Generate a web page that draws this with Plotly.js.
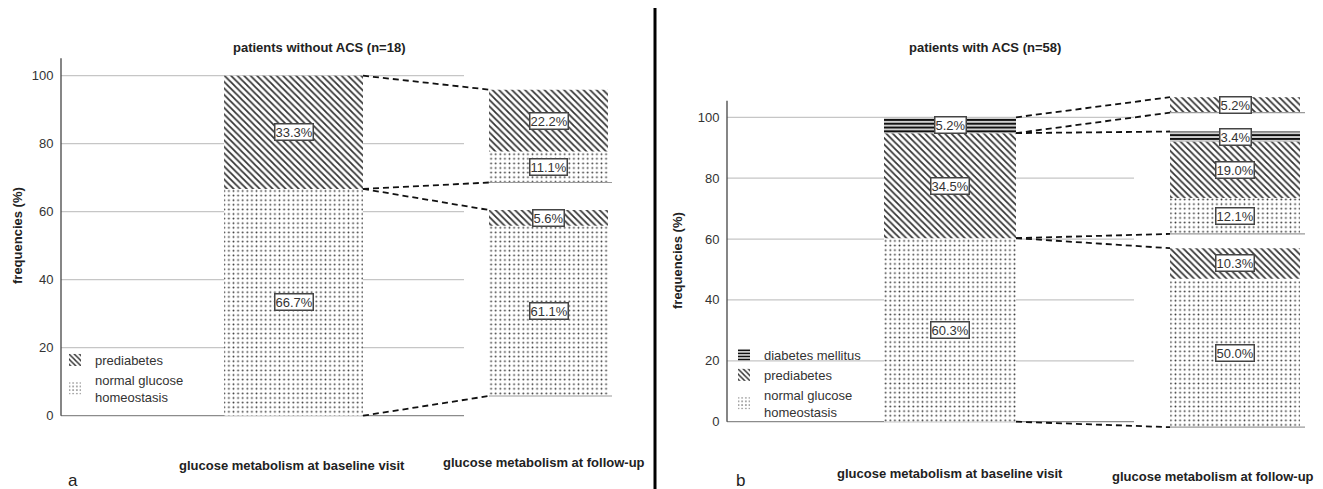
<!DOCTYPE html>
<html><head><meta charset="utf-8">
<script src="https://cdn.plot.ly/plotly-3.0.1.min.js"></script>
<style>html,body{margin:0;padding:0;background:#fff}#chart{width:1323px;height:489px}</style>
</head><body><div id="chart"></div>
<script>
// ---------------- data ----------------
const categories = ["normal glucose<br>homeostasis", "prediabetes", "diabetes mellitus"];
const stageLabels = ["glucose metabolism at baseline visit", "glucose metabolism at follow-up"];
const panelTitles = ["patients without ACS (n=18)", "patients with ACS (n=58)"];
const panelLetters = ["a", "b"];
const yTicks = [0, 20, 40, 60, 80, 100];

// panel a: patients without ACS — baseline % (normal, prediabetes)
const baselineA = [66.7, 33.3];
// follow-up %, by baseline group; columns = (normal, prediabetes)
const followUpA_fromNormal = [61.1, 5.6];
const followUpA_fromPrediabetes = [11.1, 22.2];

// panel b: patients with ACS — baseline % (normal, prediabetes, diabetes)
const baselineB = [60.3, 34.5, 5.2];
// follow-up %, by baseline group; columns = (normal, prediabetes, diabetes)
const followUpB_fromNormal = [50.0, 10.3, 0];
const followUpB_fromPrediabetes = [12.1, 19.0, 3.4];
const followUpB_fromDiabetes = [0, 5.2, 0];

// ---------------- layout / style ----------------
const W = 1323, H = 489;
const FONT = "Liberation Sans, Arial, Helvetica, sans-serif";
const patterns = [
  {shape: ".", fgcolor: "#3a3a3a", bgcolor: "white", size: 4.6, solidity: 0.13},
  {shape: "\\", fgcolor: "#333", bgcolor: "white", size: 4.6, solidity: 0.38},
  {shape: "-", fgcolor: "#111", bgcolor: "white", size: 3.8, solidity: 0.6}
];
const geoms = [
  {axisLeft: 61, plotRight: 615, baseLeft: 224, baseRight: 363, fuLeft: 489, fuRight: 608, gridEnd: 464,
   zeroPx: 415.7, pxPerUnit: 3.4, axisTop: 105.1, rangeTop: 106, yBottom: -1.2, fuScale: 0.82, fuOffset: 5.8, fuGaps: [8.1],
   lineExt: 4, title: [319, 47], yTitle: [17, 236], stagePos: [[292, 465], [544, 462]], letter: [73, 480],
   legendLeft: 55, legendBottom: 412},
  {axisLeft: 727, plotRight: 1312, baseLeft: 884, baseRight: 1016, fuLeft: 1170, fuRight: 1300, gridEnd: 1134,
   zeroPx: 421.7, pxPerUnit: 3.044, axisTop: 105.4, rangeTop: 108.5, yBottom: -3.2, fuScale: 0.975, fuOffset: -1.8, fuGaps: [4.7, 6.2],
   lineExt: 5, title: [985, 47], yTitle: [677, 261], stagePos: [[950, 473], [1213, 476]], letter: [740, 480],
   legendLeft: 724, legendBottom: 427}
];

const traces = [], shapes = [], annotations = [];
const layout = {
  width: W, height: H, margin: {l: 0, r: 0, t: 0, b: 0},
  paper_bgcolor: "white", plot_bgcolor: "rgba(0,0,0,0)",
  barmode: "overlay", showlegend: true,
  font: {family: FONT, color: "#333"},
  hovermode: false
};

function buildPanel(idx, geom, baseline, flows) {
  const sfx = idx === 0 ? "" : "2";
  const xa = "x" + sfx, ya = "y" + sfx;
  const baseCenter = (geom.baseLeft + geom.baseRight) / 2;
  const fuCenter = (geom.fuLeft + geom.fuRight) / 2;
  const unit = fuCenter - baseCenter;
  const toX = px => (px - baseCenter) / unit;
  const bw = (geom.baseRight - geom.baseLeft) / unit;
  const fw = (geom.fuRight - geom.fuLeft) / unit;
  const n = baseline.length;

  const baseStart = []; let acc = 0;
  for (let c = 0; c < n; c++) { baseStart.push(acc); acc += baseline[c]; }
  const groupStart = []; let gacc = geom.fuOffset;
  for (let g = 0; g < n; g++) { groupStart.push(gacc); gacc += geom.fuScale * baseline[g] + (geom.fuGaps[g] || 0); }

  const bottomPx = geom.zeroPx - geom.yBottom * geom.pxPerUnit;
  const topPx = geom.zeroPx - geom.rangeTop * geom.pxPerUnit;
  layout["xaxis" + sfx] = {
    domain: [geom.axisLeft / W, geom.plotRight / W], range: [toX(geom.axisLeft), toX(geom.plotRight)],
    showgrid: false, zeroline: false, showline: false, showticklabels: false, ticks: "", fixedrange: true,
    anchor: ya
  };
  layout["yaxis" + sfx] = {
    domain: [(H - bottomPx) / H, (H - topPx) / H], range: [geom.yBottom, geom.rangeTop],
    tickvals: yTicks, ticktext: yTicks.map(String), ticks: "outside", ticklen: 4, tickcolor: "rgba(0,0,0,0)",
    showgrid: false, zeroline: false, showline: false, fixedrange: true,
    tickfont: {family: FONT, size: 13, color: "#333"}, anchor: xa
  };

  const legendId = idx === 0 ? "legend" : "legend2";
  for (let c = 0; c < n; c++) {
    const xs = [0], bases = [baseStart[c]], ys = [baseline[c]], ws = [bw];
    annotations.push(label(xa, ya, 0, baseStart[c] + baseline[c] / 2, baseline[c]));
    for (let g = 0; g < n; g++) {
      const v = flows[g][c];
      if (!(v > 0)) continue;
      let below = 0; for (let k = 0; k < c; k++) below += flows[g][k];
      const b = groupStart[g] + geom.fuScale * below;
      const h = geom.fuScale * v;
      xs.push(1); bases.push(b); ys.push(h); ws.push(fw);
      annotations.push(label(xa, ya, 1, b + h / 2, v));
    }
    traces.push({
      type: "bar", name: categories[c], x: xs, y: ys, base: bases, width: ws,
      xaxis: xa, yaxis: ya, legend: legendId,
      marker: {color: "white", line: {width: 0}, pattern: patterns[c]},
      hoverinfo: "skip"
    });
  }

  // dashed connectors between baseline groups and follow-up groups
  const cx = [], cy = [];
  for (let g = 0; g < n; g++) {
    const gh = geom.fuScale * baseline[g];
    cx.push(bw / 2, 1 - fw / 2, null, bw / 2, 1 - fw / 2, null);
    cy.push(baseStart[g], groupStart[g], null, baseStart[g] + baseline[g], groupStart[g] + gh, null);
  }
  traces.push({
    type: "scatter", mode: "lines", x: cx, y: cy, xaxis: xa, yaxis: ya, showlegend: false,
    line: {color: "#111", width: 1.8, dash: "6px,4px"}, hoverinfo: "skip", cliponaxis: false
  });

  // grid lines (stop before follow-up column)
  yTicks.forEach(t => shapes.push({
    type: "line", xref: xa, yref: ya, x0: toX(geom.axisLeft), x1: toX(geom.gridEnd), y0: t, y1: t,
    line: {color: t === 0 ? "#8c8c8c" : "#c6c6c6", width: 1.3}, layer: "below"
  }));
  // y axis line
  shapes.push({type: "line", xref: xa + " domain", yref: ya, x0: 0, x1: 0, y0: 0, y1: geom.axisTop,
    line: {color: "#444", width: 1.3}, layer: "above"});
  // base line below each follow-up group
  for (let g = 0; g < n; g++) {
    shapes.push({type: "line", xref: xa, yref: ya, x0: 1 - fw / 2, x1: 1 + fw / 2 + geom.lineExt / unit,
      y0: groupStart[g], y1: groupStart[g], line: {color: "#9a9a9a", width: 1.2}, layer: "above"});
  }

  // texts
  const paperX = px => px / W, paperY = py => (H - py) / H;
  annotations.push({text: panelTitles[idx], xref: "paper", yref: "paper", x: paperX(geom.title[0]), y: paperY(geom.title[1]),
    showarrow: false, xanchor: "center", yanchor: "middle", font: {family: FONT, size: 13, weight: "bold", color: "#222"}});
  annotations.push({text: "frequencies (%)", xref: "paper", yref: "paper", x: paperX(geom.yTitle[0]), y: paperY(geom.yTitle[1]),
    textangle: -90, showarrow: false, xanchor: "center", yanchor: "middle", font: {family: FONT, size: 13, weight: "bold", color: "#222"}});
  stageLabels.forEach((s, i) => annotations.push({text: s, xref: "paper", yref: "paper",
    x: paperX(geom.stagePos[i][0]), y: paperY(geom.stagePos[i][1]), showarrow: false, xanchor: "center", yanchor: "middle",
    font: {family: FONT, size: 13, weight: "bold", color: "#222"}}));
  annotations.push({text: panelLetters[idx], xref: "paper", yref: "paper", x: paperX(geom.letter[0]), y: paperY(geom.letter[1]),
    showarrow: false, xanchor: "center", yanchor: "middle", font: {family: FONT, size: 17, color: "#222"}});

  layout[legendId] = {
    x: geom.legendLeft / W, xanchor: "left", y: (H - geom.legendBottom) / H, yanchor: "bottom",
    bgcolor: "rgba(0,0,0,0)", borderwidth: 0, traceorder: "reversed", tracegroupgap: 0,
    font: {family: FONT, size: 13, color: "#333"}, itemclick: false, itemdoubleclick: false
  };
}

function label(xa, ya, x, y, v) {
  return {text: v.toFixed(1) + "%", xref: xa, yref: ya, x: x, y: y, showarrow: false,
    xanchor: "center", yanchor: "middle", bgcolor: "white", bordercolor: "#444", borderwidth: 1.5, borderpad: 0,
    font: {family: FONT, size: 13, color: "#333"}};
}

buildPanel(0, geoms[0], baselineA, [followUpA_fromNormal, followUpA_fromPrediabetes]);
buildPanel(1, geoms[1], baselineB, [followUpB_fromNormal, followUpB_fromPrediabetes, followUpB_fromDiabetes]);

// divider between panels
shapes.push({type: "line", xref: "paper", yref: "paper", x0: 655 / W, x1: 655 / W, y0: 0, y1: (H - 8) / H,
  line: {color: "#000", width: 3}});

layout.shapes = shapes;
layout.annotations = annotations;

Plotly.newPlot("chart", traces, layout, {displayModeBar: false, staticPlot: true});
</script>
</body></html>
